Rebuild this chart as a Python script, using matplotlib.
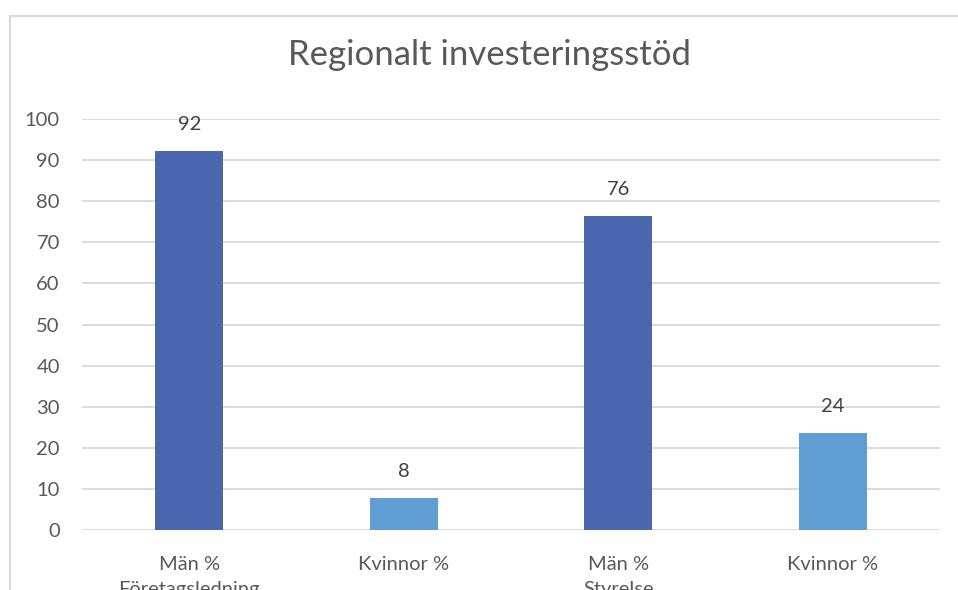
import matplotlib.pyplot as plt
from matplotlib.patches import Rectangle

plt.rcParams['font.family'] = ['Lato', 'DejaVu Sans']

categories = ['Män %\nFöretagsledning', 'Kvinnor %', 'Män %\nStyrelse', 'Kvinnor %']
values = [92.2, 7.8, 76.4, 23.6]
colors = ['#4a66ad', '#5f9dd2', '#4a66ad', '#5f9dd2']
yticks = [0, 10, 20, 30, 40, 50, 60, 70, 80, 90, 100]

txt = '#595959'
W, H = 958, 590

fig = plt.figure(figsize=(W / 100, H / 100), dpi=100)
ax = fig.add_axes([82 / W, 1 - 530 / H, (940 - 82) / W, (530 - 119) / H])

x = range(len(categories))
bars = ax.bar(x, values, width=0.317, color=colors, zorder=3)

for b, v in zip(bars, values):
    ax.annotate(f'{v:.0f}', (b.get_x() + b.get_width() / 2, v),
                xytext=(0, 13), textcoords='offset points',
                ha='center', va='bottom', fontsize=14.5, color='#404040')

ax.set_xlim(-0.5, 3.5)
ax.set_ylim(0, 100)
ax.set_yticks(yticks)
ax.set_yticklabels([str(t) for t in yticks], fontsize=14.5, color=txt)
ax.set_xticks(list(x))
ax.set_xticklabels(categories, fontsize=14.5, color=txt, linespacing=1.55)
ax.tick_params(axis='both', length=0)
ax.tick_params(axis='y', pad=16)
ax.tick_params(axis='x', pad=19)
ax.yaxis.grid(True, color='#d9d9d9', lw=1.3, zorder=0)
for s in ax.spines.values():
    s.set_visible(False)

fig.text(490 / W, 1 - 55 / H, 'Regionalt investeringsstöd',
         ha='center', va='center', fontsize=25, color=txt)

# outer chart border (cropped on right and bottom)
fig.patches.append(Rectangle((10 / W, -0.2), 2, 1 - 16 / H + 0.2,
                             transform=fig.transFigure, fill=False,
                             edgecolor='#d9d9d9', lw=1.5))

fig.savefig('out.png', dpi=100)
